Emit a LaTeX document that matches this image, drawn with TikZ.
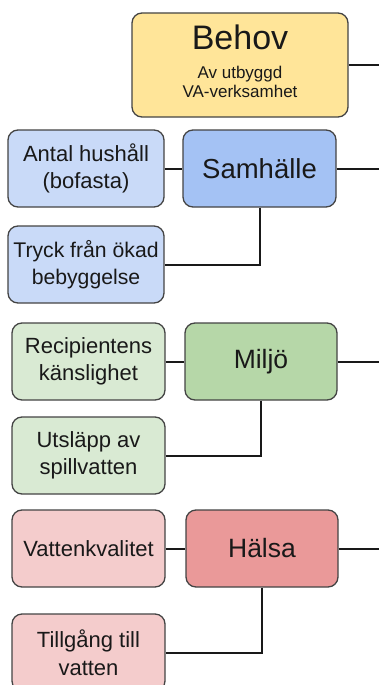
\documentclass[tikz,border=0pt]{standalone}
\usepackage{fontspec}
\setmainfont{Liberation Sans}
\definecolor{yel}{HTML}{FFE599}
\definecolor{blu}{HTML}{A4C2F4}
\definecolor{blul}{HTML}{C9DAF8}
\definecolor{grn}{HTML}{B6D7A8}
\definecolor{grnl}{HTML}{D9EAD3}
\definecolor{red2}{HTML}{EA9999}
\definecolor{redl}{HTML}{F4CCCC}
\definecolor{edge}{HTML}{444444}
\tikzset{
  box/.style={draw=edge, line width=1.3pt, rounded corners=10pt, align=center, inner sep=0pt, text=black!90},
  mainbox/.style={box, minimum width=153pt, minimum height=77pt, font=\fontsize{26.5}{30}\selectfont},
  sidebox/.style={box, minimum width=155pt, minimum height=77pt, font=\fontsize{22}{27.5}\selectfont},
  conn/.style={line width=2pt, draw=black!90},
}
\begin{document}
\begin{tikzpicture}[x=1pt,y=-1pt]
\useasboundingbox (0,0) rectangle (379,685);
% Behov
\node[box, fill=yel, minimum width=216pt, minimum height=104pt] (behov) at (240,65) {};
\node[font=\fontsize{34}{38}\selectfont, text=black!90, inner sep=0pt, anchor=base] (behovt) at (240,50) {Behov};
\node[font=\fontsize{17}{19}\selectfont, text=black!90, inner sep=0pt, align=center, anchor=base] (behovs) at (240,97) {Av utbyggd\\VA-verksamhet};
\coordinate (e1) at (379,65);
\draw[conn] (behov.east) -- (e1);
% Samhalle
\node[sidebox, fill=blul, minimum width=156pt] (antal) at (86,168.5) {Antal hushåll\\(bofasta)};
\node[mainbox, fill=blu, font=\fontsize{27.5}{30}\selectfont] (samh) at (259.5,168.5) {Samhälle};
\node[sidebox, fill=blul, minimum width=156pt, font=\fontsize{21.2}{27.5}\selectfont] (tryck) at (86,264.5) {Tryck från ökad\\bebyggelse};
\coordinate (e2) at (379,168.5);
\draw[conn] (antal.east) -- (samh.west);
\draw[conn] (samh.east) -- (e2);
\draw[conn] (samh.south) |- (tryck.east);
% Miljo
\node[sidebox, fill=grnl, minimum width=153pt] (recip) at (88.5,361.5) {Recipientens\\känslighet};
\node[mainbox, fill=grn, minimum width=152pt] (miljo) at (261,361.5) {Miljö};
\node[sidebox, fill=grnl, minimum width=153pt] (utslapp) at (88.5,455.5) {Utsläpp av\\spillvatten};
\coordinate (e3) at (379,361.5);
\draw[conn] (recip.east) -- (miljo.west);
\draw[conn] (miljo.east) -- (e3);
\draw[conn] (miljo.south) |- (utslapp.east);
% Halsa
\node[sidebox, fill=redl, minimum width=153pt] (vkval) at (88.5,548.5) {Vattenkvalitet};
\node[mainbox, fill=red2, minimum width=152pt] (halsa) at (262,548.5) {Hälsa};
\node[sidebox, fill=redl, minimum width=153pt] (tillg) at (88.5,652.5) {Tillgång till\\vatten};
\coordinate (e4) at (379,548.5);
\draw[conn] (vkval.east) -- (halsa.west);
\draw[conn] (halsa.east) -- (e4);
\draw[conn] (halsa.south) |- (tillg.east);
\end{tikzpicture}
\end{document}
